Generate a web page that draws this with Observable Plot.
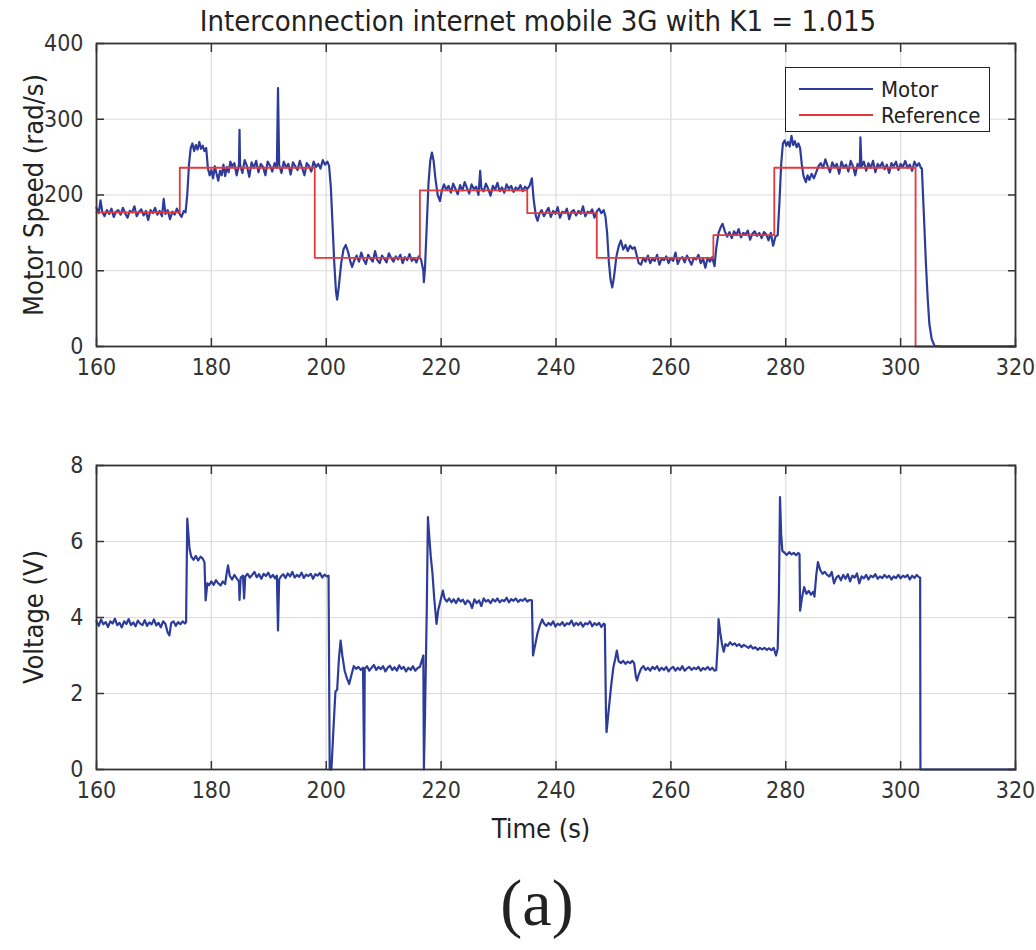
<!DOCTYPE html>
<html><head><meta charset="utf-8">
<script src="https://cdn.jsdelivr.net/npm/d3@7"></script>
<script src="https://cdn.jsdelivr.net/npm/@observablehq/plot@0.6"></script>
<style>
body{margin:0;background:#fff;}
#wrap{position:relative;width:1036px;height:950px;overflow:hidden;font-family:"Liberation Sans Narrow","DejaVu Sans Condensed","Roboto Condensed",sans-serif;color:#222;}
#title{position:absolute;left:0;width:1076px;top:4px;text-align:center;font-size:29px;white-space:nowrap;}
#topPlot{position:absolute;left:0;top:0;}
#botPlot{position:absolute;left:0;top:420px;}
.ylab{position:absolute;font-size:27px;white-space:nowrap;transform:translate(-50%,-50%) rotate(-90deg);}
#xlab{position:absolute;left:541px;top:828px;transform:translate(-50%,-50%);font-size:27px;white-space:nowrap;}
#cap{position:absolute;left:537px;top:903px;transform:translate(-50%,-50%);font-family:"Liberation Serif","DejaVu Serif",serif;font-size:66px;}
#legend{position:absolute;left:785px;top:67px;width:203px;height:63px;border:1.5px solid #222;background:#fff;font-size:22px;}
#legend .row{position:absolute;left:13px;height:26px;display:flex;align-items:center;}
#legend .sw{width:74px;height:0;border-top:2px solid;margin-right:8px;}
</style></head><body>
<div id="wrap">
  <div id="title">Interconnection internet mobile 3G with K1 = 1.015</div>
  <div id="topPlot"></div>
  <div id="botPlot"></div>
  <div class="ylab" style="left:33px;top:195px;">Motor Speed (rad/s)</div>
  <div class="ylab" style="left:33px;top:617px;">Voltage (V)</div>
  <div id="xlab">Time (s)</div>
  <div id="legend">
    <div class="row" style="top:8px;"><div class="sw" style="border-color:#2d3c9b"></div><span>Motor</span></div>
    <div class="row" style="top:34px;"><div class="sw" style="border-color:#e5383b"></div><span>Reference</span></div>
  </div>
  <div id="cap">(a)</div>
</div>
<script>
// ---- data ----
const timeTicks = [160, 180, 200, 220, 240, 260, 280, 300, 320];
const speedTicks = [0, 100, 200, 300, 400];
const voltTicks = [0, 2, 4, 6, 8];

const referenceSpeed = [[160,177],[174.5,236],[198.0,117],[216.3,206],[235.0,176],[247.1,117],[267.4,147],[278.0,236],[302.6,0],[320,0]];

const motorSpeed = [
[160.0,183],[160.4,176],[160.7,193],[161.0,178],[161.4,172],[161.8,180],[162.2,175],[162.6,182],[163.0,171],[163.4,178],[163.8,180],[164.2,174],[164.6,183],[165.0,176],[165.4,170],[165.8,179],[166.2,177],[166.6,185],[167.0,172],[167.4,178],[167.8,181],[168.2,173],[168.6,179],[169.0,167],[169.4,180],[169.8,176],[170.2,183],[170.6,174],[171.0,179],[171.4,172],[171.7,195],[172.0,175],[172.4,180],[172.8,168],[173.2,178],[173.6,174],[174.0,182],[174.4,176],[174.8,171],[175.2,179],[175.5,177],
[175.8,200],[176.1,240],[176.4,262],[176.7,268],[177.0,258],[177.3,266],[177.6,260],[177.9,270],[178.2,261],[178.5,265],[178.8,258],[179.1,262],
[179.4,235],[179.7,226],[180.0,233],[180.3,222],[180.6,238],[180.9,228],[181.2,219],[181.5,232],[181.8,226],[182.1,240],[182.4,225],[182.7,237],[183.0,230],[183.3,244],[183.6,238],[184.0,242],[184.4,226],[184.8,240],[184.9,286],[185.0,240],[185.4,229],[185.8,246],[186.2,238],[186.6,224],[187.0,243],[187.4,236],[187.8,245],[188.2,230],[188.6,241],[189.0,237],[189.4,226],[189.8,244],[190.2,239],[190.6,231],[191.0,242],[191.4,236],[191.6,341],[191.8,240],[192.2,229],[192.6,244],[193.0,236],[193.4,241],[193.8,227],[194.2,243],[194.6,238],[195.0,233],[195.4,245],[195.8,236],[196.2,226],[196.6,242],[197.0,238],[197.4,231],[197.8,244],[198.2,237],[198.6,241],[199.0,235],[199.4,246],[199.8,240],[200.2,244],[200.5,238],
[200.8,210],[201.1,160],[201.4,110],[201.7,72],[201.9,62],[202.2,80],[202.6,110],[203.0,128],[203.4,134],[203.8,125],[204.2,112],[204.5,105],[204.9,114],[205.3,120],[205.7,112],[206.1,124],[206.5,115],[206.9,109],[207.3,121],[207.7,116],[208.1,112],[208.5,126],[208.9,114],[209.3,110],[209.7,120],[210.1,116],[210.5,111],[210.9,123],[211.3,117],[211.7,112],[212.1,119],[212.5,115],[212.9,121],[213.3,110],[213.7,118],[214.1,114],[214.5,122],[214.9,113],[215.3,117],[215.7,111],[216.1,119],[216.5,115],[216.9,100],[217.0,85],[217.2,105],
[217.5,160],[217.8,215],[218.1,245],[218.4,256],[218.7,245],[219.0,222],[219.4,200],[219.8,192],[220.1,205],[220.5,214],[220.9,207],[221.3,212],[221.7,203],[222.1,215],[222.5,208],[222.9,201],[223.3,213],[223.7,206],[224.1,217],[224.5,209],[224.9,202],[225.3,214],[225.7,208],[226.1,211],[226.5,200],[226.8,232],[227.0,209],[227.4,205],[227.8,215],[228.2,208],[228.6,199],[229.0,212],[229.4,207],[229.8,216],[230.2,205],[230.6,210],[231.0,203],[231.4,214],[231.8,208],[232.2,212],[232.6,204],[233.0,210],[233.4,207],[233.8,213],[234.2,205],[234.6,211],[235.0,208],[235.4,212],[235.8,222],
[236.1,195],[236.5,172],[236.8,166],[237.1,175],[237.5,180],[237.9,172],[238.3,178],[238.7,183],[239.1,171],[239.5,179],[239.9,175],[240.3,184],[240.7,170],[241.1,178],[241.5,176],[241.9,182],[242.3,168],[242.7,178],[243.1,180],[243.5,173],[243.9,179],[244.3,175],[244.7,185],[245.1,172],[245.5,178],[245.9,176],[246.3,181],[246.7,170],[247.1,178],[247.5,182],[247.9,176],[248.3,180],[248.6,172],
[248.9,150],[249.2,112],[249.5,88],[249.8,78],[250.1,92],[250.5,118],[250.9,132],[251.3,140],[251.7,128],[252.1,134],[252.5,126],[252.9,133],[253.3,129],[253.7,131],[254.0,122],[254.4,110],[254.8,108],[255.2,117],[255.6,112],[256.0,120],[256.4,110],[256.8,116],[257.2,113],[257.6,121],[258.0,108],[258.4,116],[258.8,114],[259.2,119],[259.6,110],[260.0,117],[260.4,113],[260.8,124],[261.2,109],[261.6,116],[262.0,118],[262.4,111],[262.8,120],[263.2,114],[263.6,108],[264.0,117],[264.4,115],[264.8,121],[265.2,110],[265.6,116],[266.0,104],[266.4,117],[266.8,112],[267.2,118],[267.6,106],
[267.9,130],[268.3,150],[268.7,158],[269.0,162],[269.4,152],[269.8,145],[270.2,151],[270.6,143],[271.0,152],[271.4,147],[271.8,155],[272.2,144],[272.6,150],[273.0,148],[273.4,153],[273.8,141],[274.2,149],[274.6,152],[275.0,146],[275.4,150],[275.8,143],[276.2,151],[276.6,148],[277.0,140],[277.4,150],[277.8,133],[278.2,145],[278.6,147],
[278.9,190],[279.2,240],[279.5,268],[279.8,272],[280.1,265],[280.4,270],[280.7,264],[281.0,278],[281.3,266],[281.6,271],[281.9,263],[282.2,268],[282.5,262],
[282.8,240],[283.1,225],[283.5,217],[283.8,226],[284.1,220],[284.5,228],[284.9,222],[285.3,230],[285.7,238],[286.1,242],[286.5,236],[286.9,247],[287.3,238],[287.7,230],[288.1,243],[288.5,237],[288.9,241],[289.3,228],[289.7,244],[290.1,236],[290.5,240],[290.9,231],[291.3,245],[291.7,238],[292.1,226],[292.5,241],[292.9,237],[293.0,276],[293.2,238],[293.6,244],[294.0,232],[294.4,242],[294.8,236],[295.2,245],[295.6,230],[296.0,241],[296.4,237],[296.8,243],[297.2,234],[297.6,240],[298.0,229],[298.4,242],[298.8,238],[299.2,244],[299.6,233],[300.0,241],[300.4,237],[300.8,245],[301.2,236],[301.6,240],[302.0,232],[302.4,244],[302.8,238],[303.2,242],[303.5,236],
[303.7,235],[303.9,200],[304.1,165],[304.4,110],[304.7,65],[305.0,30],[305.4,10],[305.9,1],[307,0],[320,0]
];

const voltage = [
[160.0,3.9],[160.4,3.78],[160.8,3.95],[161.2,3.82],[161.6,3.88],[162.0,3.75],[162.4,3.9],[162.8,3.84],[163.2,3.97],[163.6,3.8],[164.0,3.86],[164.4,3.74],[164.8,3.9],[165.2,3.83],[165.6,3.96],[166.0,3.8],[166.4,3.87],[166.8,3.77],[167.2,3.92],[167.6,3.84],[168.0,3.8],[168.4,3.93],[168.8,3.78],[169.2,3.87],[169.6,3.82],[170.0,3.95],[170.4,3.79],[170.8,3.86],[171.2,3.74],[171.6,3.9],[172.0,3.83],[172.4,3.6],[172.7,3.53],[173.0,3.85],[173.4,3.9],[173.8,3.78],[174.2,3.88],[174.6,3.82],[175.0,3.9],[175.4,3.84],[175.6,3.88],
[175.8,6.6],[176.0,6.2],[176.2,5.8],[176.5,5.6],[176.9,5.52],[177.3,5.62],[177.7,5.5],[178.1,5.6],[178.5,5.55],[178.8,5.45],
[179.0,4.45],[179.3,4.9],[179.6,4.85],[180.0,4.95],[180.4,4.86],[180.8,4.98],[181.2,4.9],[181.6,4.84],[182.0,4.95],[182.4,4.88],[182.7,5.2],[182.9,5.37],[183.2,5.1],[183.6,5.0],[184.0,5.12],[184.4,5.03],[184.8,4.95],[184.9,4.46],[185.1,5.05],[185.5,5.1],[185.7,4.5],[185.9,5.08],[186.3,5.15],[186.7,5.05],[187.1,5.12],[187.5,5.2],[187.9,5.06],[188.3,5.14],[188.7,5.02],[189.1,5.15],[189.5,5.09],[189.9,5.18],[190.3,5.05],[190.7,5.12],[191.1,5.03],[191.4,5.1],[191.6,3.66],[191.8,5.0],[192.1,5.08],[192.5,5.14],[192.9,5.04],[193.3,5.16],[193.7,5.08],[194.1,5.2],[194.5,5.05],[194.9,5.12],[195.3,5.07],[195.7,5.18],[196.1,5.04],[196.5,5.13],[196.9,5.09],[197.3,5.15],[197.7,5.02],[198.1,5.14],[198.5,5.1],[198.9,5.17],[199.3,5.05],[199.7,5.13],[200.1,5.08],[200.4,5.1],
[200.6,0],[200.9,0],[201.3,1.2],[201.6,2.05],[201.9,2.1],[202.2,2.9],[202.5,3.39],[202.8,3.0],[203.2,2.6],[203.6,2.4],[204.0,2.25],[204.4,2.5],[204.8,2.72],[205.2,2.65],[205.6,2.7],[206.0,2.62],[206.4,2.68],[206.6,0],[206.7,2.65],[207.1,2.72],[207.5,2.6],[207.9,2.68],[208.3,2.75],[208.7,2.62],[209.1,2.7],[209.5,2.64],[209.9,2.72],[210.3,2.58],[210.7,2.68],[211.1,2.73],[211.5,2.62],[211.9,2.69],[212.3,2.6],[212.7,2.74],[213.1,2.65],[213.5,2.7],[213.9,2.58],[214.3,2.68],[214.7,2.62],[215.1,2.72],[215.5,2.6],[215.9,2.67],[216.3,2.7],[216.6,2.85],[216.9,3.0],[217.0,0],[217.2,1.5],[217.5,4.2],[217.7,6.64],[217.9,6.2],[218.2,5.6],[218.5,5.15],[218.8,4.5],[219.2,3.83],[219.5,4.2],[219.9,4.45],[220.3,4.71],[220.6,4.5],[221.0,4.42],[221.4,4.5],[221.8,4.4],[222.2,4.48],[222.6,4.38],[223.0,4.5],[223.4,4.42],[223.8,4.47],[224.2,4.35],[224.6,4.45],[225.0,4.4],[225.4,4.25],[225.8,4.48],[226.2,4.38],[226.6,4.45],[227.0,4.3],[227.4,4.5],[227.8,4.42],[228.2,4.46],[228.6,4.38],[229.0,4.48],[229.4,4.42],[229.8,4.5],[230.2,4.4],[230.6,4.46],[231.0,4.43],[231.4,4.52],[231.8,4.4],[232.2,4.48],[232.6,4.44],[233.0,4.5],[233.4,4.41],[233.8,4.47],[234.2,4.44],[234.6,4.5],[235.0,4.42],[235.4,4.46],[235.8,4.45],
[236.0,3.0],[236.4,3.3],[236.8,3.6],[237.2,3.8],[237.6,3.95],[237.9,3.85],[238.3,3.78],[238.7,3.86],[239.1,3.8],[239.5,3.9],[239.9,3.76],[240.3,3.84],[240.7,3.8],[241.1,3.88],[241.5,3.78],[241.9,3.85],[242.3,3.82],[242.7,3.92],[243.1,3.78],[243.5,3.86],[243.9,3.8],[244.3,3.87],[244.7,3.76],[245.1,3.85],[245.5,3.82],[245.9,3.9],[246.3,3.77],[246.7,3.85],[247.1,3.8],[247.5,3.86],[247.9,3.75],[248.3,3.84],[248.5,3.82],
[248.7,1.5],[248.8,0.98],[249.2,1.6],[249.6,2.2],[250.0,2.7],[250.3,2.9],[250.6,3.13],[250.9,2.85],[251.3,2.8],[251.7,2.86],[252.1,2.78],[252.5,2.84],[252.9,2.8],[253.3,2.86],[253.6,2.8],[253.9,2.45],[254.1,2.34],[254.4,2.5],[254.8,2.65],[255.2,2.72],[255.6,2.62],[256.0,2.68],[256.4,2.6],[256.8,2.7],[257.2,2.64],[257.6,2.72],[258.0,2.6],[258.4,2.68],[258.8,2.62],[259.2,2.7],[259.6,2.58],[260.0,2.66],[260.4,2.7],[260.8,2.6],[261.2,2.68],[261.6,2.62],[262.0,2.72],[262.4,2.6],[262.8,2.66],[263.2,2.7],[263.6,2.62],[264.0,2.68],[264.4,2.64],[264.8,2.7],[265.2,2.6],[265.6,2.67],[266.0,2.63],[266.4,2.7],[266.8,2.62],[267.2,2.68],[267.6,2.6],[267.9,2.62],
[268.2,3.4],[268.3,3.96],[268.6,3.6],[268.9,3.3],[269.2,3.1],[269.5,3.3],[269.9,3.25],[270.3,3.35],[270.7,3.28],[271.1,3.32],[271.5,3.25],[271.9,3.3],[272.3,3.22],[272.7,3.28],[273.1,3.24],[273.5,3.2],[273.9,3.26],[274.3,3.18],[274.7,3.22],[275.1,3.15],[275.5,3.2],[275.9,3.16],[276.3,3.2],[276.7,3.15],[277.1,3.19],[277.5,3.14],[277.9,3.2],[278.3,3.0],[278.6,3.18],
[278.8,4.5],[279.0,7.17],[279.2,6.2],[279.4,5.76],[279.8,5.7],[280.2,5.65],[280.6,5.72],[281.0,5.66],[281.4,5.7],[281.8,5.64],[282.2,5.7],[282.4,5.66],
[282.5,4.18],[282.8,4.5],[283.2,4.8],[283.6,4.62],[284.0,4.7],[284.4,4.6],[284.8,4.68],[285.0,4.55],[285.3,5.1],[285.6,5.46],[286.0,5.25],[286.4,5.15],[286.8,5.2],[287.2,5.12],[287.6,5.08],[288.0,5.2],[288.4,4.9],[288.8,5.05],[289.2,5.1],[289.6,4.98],[290.0,5.12],[290.4,5.02],[290.8,5.14],[291.2,4.95],[291.6,5.1],[292.0,5.05],[292.4,5.16],[292.8,4.9],[293.2,5.08],[293.6,5.03],[294.0,5.12],[294.4,5.0],[294.8,5.1],[295.2,5.06],[295.6,5.14],[296.0,5.02],[296.4,5.08],[296.8,5.04],[297.2,5.12],[297.6,5.05],[298.0,5.1],[298.4,5.0],[298.8,5.08],[299.2,5.04],[299.6,5.12],[300.0,5.03],[300.4,5.1],[300.8,5.06],[301.2,5.12],[301.6,5.0],[302.0,5.1],[302.4,5.04],[302.8,5.12],[303.2,5.06],[303.4,5.05],[303.45,0],[320,0]
];

// ---- styling ----
const BLUE = "#2d3c9b", RED = "#e5383b", GRID = "#dcdcdc", FRAME = "#333";
const font = '"Liberation Sans Narrow","DejaVu Sans Condensed","Roboto Condensed",sans-serif';

function axes(yTicks) {
  return [
    Plot.gridX(timeTicks, {stroke: GRID, strokeOpacity: 1, strokeWidth: 1.2}),
    Plot.gridY(yTicks, {stroke: GRID, strokeOpacity: 1, strokeWidth: 1.2})
  ];
}
function frameAndTicks(yTicks) {
  const blank = () => "";
  return [
    Plot.frame({stroke: FRAME, strokeWidth: 1.8}),
    Plot.axisX(timeTicks, {anchor: "bottom", tickSize: 0, tickPadding: 12, label: null, fill: "#333"}),
    Plot.axisX(timeTicks, {anchor: "bottom", tickSize: -8, tickFormat: blank, label: null, stroke: FRAME, strokeWidth: 1.5}),
    Plot.axisX(timeTicks, {anchor: "top", tickSize: -8, tickFormat: blank, label: null, stroke: FRAME, strokeWidth: 1.5}),
    Plot.axisY(yTicks, {anchor: "left", tickSize: 0, tickPadding: 13, label: null, fill: "#333"}),
    Plot.axisY(yTicks, {anchor: "left", tickSize: -8, tickFormat: blank, label: null, stroke: FRAME, strokeWidth: 1.5}),
    Plot.axisY(yTicks, {anchor: "right", tickSize: -8, tickFormat: blank, label: null, stroke: FRAME, strokeWidth: 1.5})
  ];
}
const common = {
  width: 1036, height: 400,
  marginLeft: 96, marginRight: 21,
  style: {fontFamily: font, fontSize: "23px", background: "transparent", overflow: "visible"},
  x: {domain: [160, 320]}
};

const topChart = Plot.plot({
  ...common,
  marginTop: 43, marginBottom: 54,
  y: {domain: [0, 400]},
  marks: [
    ...axes(speedTicks),
    Plot.line(motorSpeed, {x: d => d[0], y: d => d[1], stroke: BLUE, strokeWidth: 2.2, strokeLinejoin: "round"}),
    Plot.line(referenceSpeed, {x: d => d[0], y: d => d[1], curve: "step-after", stroke: RED, strokeWidth: 1.8}),
    ...frameAndTicks(speedTicks)
  ]
});
document.getElementById("topPlot").appendChild(topChart);

const botChart = Plot.plot({
  ...common,
  marginTop: 45, marginBottom: 51,
  y: {domain: [0, 8]},
  marks: [
    ...axes(voltTicks),
    Plot.line(voltage, {x: d => d[0], y: d => d[1], stroke: BLUE, strokeWidth: 2.2, strokeLinejoin: "round"}),
    ...frameAndTicks(voltTicks)
  ]
});
document.getElementById("botPlot").appendChild(botChart);
</script>
</body></html>
